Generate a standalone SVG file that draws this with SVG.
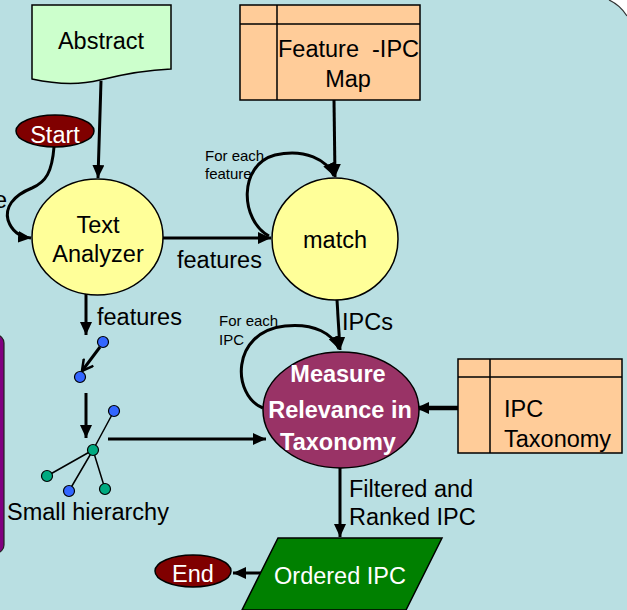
<svg xmlns="http://www.w3.org/2000/svg" width="627" height="610" viewBox="0 0 627 610">
<defs>
<style>
text{font-family:"Liberation Sans",Arial,sans-serif;font-size:23.5px;fill:#000}
.w{fill:#fff}
.b{font-weight:bold}
.s{font-size:15px}
.c{text-anchor:middle}
.ln{fill:none;stroke:#000;stroke-width:3}
.sh{stroke:#000;stroke-width:1.5}
.nb{fill:#3366FF;stroke:#000;stroke-width:1.2}
.ng{fill:#00AA80;stroke:#000;stroke-width:1.2}
</style>
<marker id="ah" markerUnits="userSpaceOnUse" markerWidth="14" markerHeight="12" refX="13" refY="6" orient="auto">
<path d="M0,0 L13,6 L0,12 Z" fill="#000"/>
</marker>
<marker id="oa" markerUnits="userSpaceOnUse" markerWidth="14" markerHeight="14" refX="12" refY="7" orient="auto">
<path d="M1,1 L12,7 L1,13" fill="none" stroke="#000" stroke-width="2.5"/>
</marker>
</defs>
<rect x="0" y="0" width="627" height="610" fill="#B9DFE2"/>
<path d="M609 0 Q620 5 627 16 L627 0 Z" fill="#fff"/>
<path d="M609 0 Q620 5 627 16" fill="none" stroke="#333" stroke-width="1.2"/>
<rect x="-20" y="335" width="24" height="218" rx="8" fill="#800080" stroke="#222" stroke-width="1.2"/>
<text x="7" y="208" style="text-anchor:end">e</text>

<g id="connectors">
<path class="ln" d="M101 81 L98 178" marker-end="url(#ah)"/>
<path class="ln" d="M54 147 C52 172 46 182 32 188 C12 196 5 208 8 220 C12 232 20 237 31 238" marker-end="url(#ah)"/>
<path class="ln" d="M334 100 L335 177" marker-end="url(#ah)"/>
<path class="ln" d="M163 238 L271 238" marker-end="url(#ah)"/>
<path class="ln" d="M269 236 C240 220 238 165 275 155 C305 148 327 160 334 176" marker-end="url(#ah)"/>
<path class="ln" d="M337 300 L340 350" marker-end="url(#ah)"/>
<path class="ln" d="M263 408 C232 396 230 332 285 326 C315 323 333 334 339 349" marker-end="url(#ah)"/>
<path class="ln" d="M458 408 L416 408" style="stroke-width:4.5" marker-end="url(#ah)"/>
<path class="ln" d="M108 439 L266 439" marker-end="url(#ah)"/>
<path class="ln" d="M340 468 L340 537" marker-end="url(#ah)"/>
<path class="ln" d="M261 573 L233 573" marker-end="url(#ah)"/>
<path class="ln" d="M86 290 L86 335" marker-end="url(#ah)"/>
<path class="ln" d="M100 347 L82 371" marker-end="url(#oa)"/>
<path class="ln" d="M86 393 L86 438" marker-end="url(#ah)"/>
</g>

<g id="abstract">
<path class="sh" d="M32 5 L171 5 L171 69 C145 70 120 75 100 80 C80 85 55 84 32 79 Z" fill="#CCFFCC"/>
<text class="c" x="101" y="49">Abstract</text>
</g>

<g id="start">
<ellipse class="sh" cx="55" cy="131" rx="39" ry="16" fill="#800000"/>
<text class="c w" x="55" y="143">Start</text>
</g>

<g id="text-analyzer">
<ellipse class="sh" cx="97.5" cy="237" rx="65.5" ry="58" fill="#FFFF99"/>
<text class="c" x="98" y="233">Text</text>
<text class="c" x="98" y="262">Analyzer</text>
</g>
<text x="177" y="268">features</text>

<g id="feature-ipc-map">
<rect class="sh" x="240" y="5" width="180" height="95" fill="#FFCC99"/>
<path d="M277 5 L277 100 M240 24 L420 24" stroke="#000" stroke-width="1.5"/>
<text x="278" y="57" xml:space="preserve">Feature  -IPC</text>
<text class="c" x="348" y="87">Map</text>
</g>

<g id="match">
<ellipse class="sh" cx="335" cy="239" rx="63" ry="61" fill="#FFFF99"/>
<text class="c" x="335" y="248">match</text>
</g>
<text class="s" x="205" y="161">For each</text>
<text class="s" x="205" y="179">feature</text>
<text x="342" y="330">IPCs</text>

<g id="measure">
<ellipse class="sh" cx="341" cy="410" rx="78" ry="58" fill="#993366"/>
<text class="c w b" x="338" y="382">Measure</text>
<text class="c w b" x="340" y="418">Relevance in</text>
<text class="c w b" x="338" y="450">Taxonomy</text>
</g>
<text class="s" x="219" y="326">For each</text>
<text class="s" x="219" y="345">IPC</text>

<g id="ipc-taxonomy">
<rect class="sh" x="458" y="359" width="164" height="94" fill="#FFCC99"/>
<path d="M490 359 L490 453 M458 377 L622 377" stroke="#000" stroke-width="1.5"/>
<text x="504" y="417">IPC</text>
<text x="504" y="447">Taxonomy</text>
</g>

<text x="349" y="497">Filtered and</text>
<text x="349" y="525">Ranked IPC</text>

<g id="ordered-ipc">
<path class="sh" d="M278 538 L442 538 L406 610 L242 610 Z" fill="#008000"/>
<text class="c w" x="340" y="584">Ordered IPC</text>
</g>

<g id="end">
<ellipse class="sh" cx="193" cy="571" rx="38" ry="16" fill="#800000"/>
<text class="c w" x="193" y="582">End</text>
</g>

<g id="hierarchy">
<text x="97" y="325">features</text>
<path d="M93 450 L114 411 M93 450 L47 476 M93 450 L69 491 M93 450 L105 489" stroke="#000" stroke-width="1.5"/>
<circle class="nb" cx="103" cy="342" r="5.5"/>
<circle class="nb" cx="80" cy="377" r="5.5"/>
<circle class="nb" cx="114" cy="411" r="5.5"/>
<circle class="ng" cx="93" cy="450" r="5.5"/>
<circle class="ng" cx="47" cy="476" r="5.5"/>
<circle class="nb" cx="69" cy="491" r="5.5"/>
<circle class="ng" cx="105" cy="489" r="5.5"/>
<text x="7" y="520">Small hierarchy</text>
</g>
</svg>
